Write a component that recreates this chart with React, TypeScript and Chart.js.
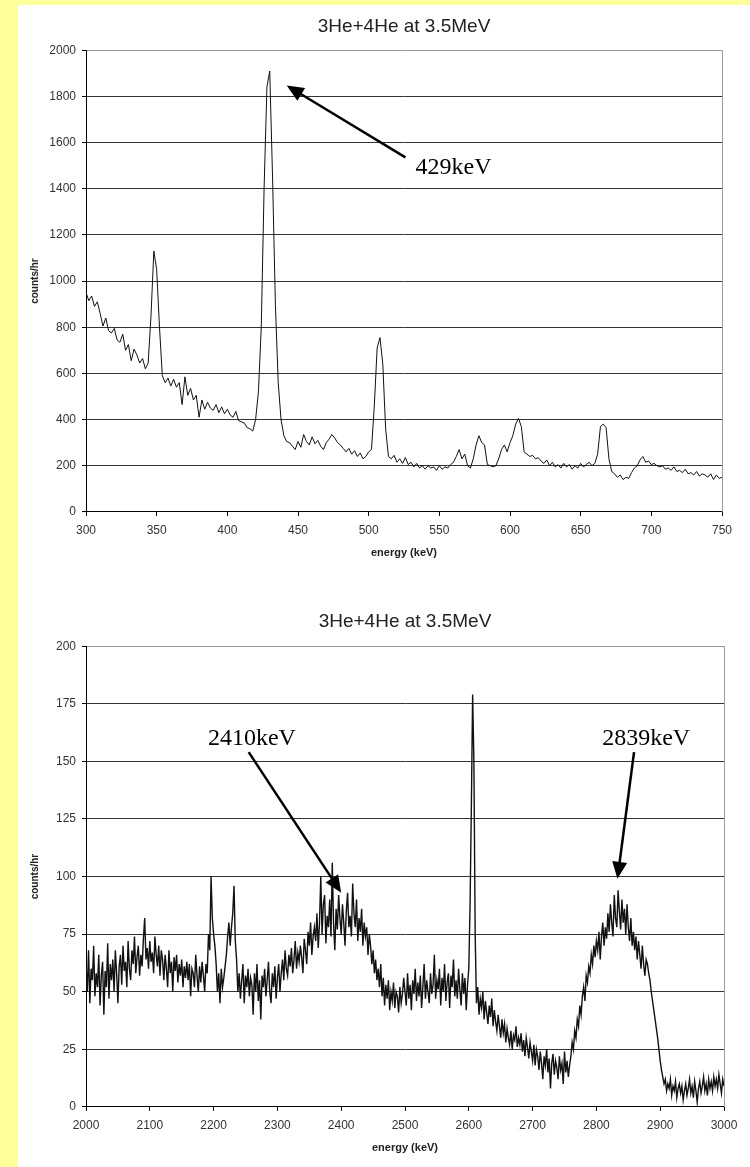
import React, { useEffect, useRef } from 'react';
import { Chart, registerables } from 'chart.js';

Chart.register(...registerables);

// Low-energy window: counts/hr per 2 keV channel, 300 – 750 keV
const LOW_START_KEV = 300;
const LOW_STEP_KEV = 2;
const lowCounts = [
  950, 915, 935, 890, 910, 860, 805, 840, 785, 775, // 300
  795, 745, 735, 770, 700, 725, 655, 705, 680, 645, // 320
  665, 620, 645, 850, 1130, 1050, 800, 590, 560, 580, // 340
  545, 575, 540, 560, 465, 585, 505, 535, 485, 505, // 360
  410, 485, 445, 475, 450, 440, 465, 430, 455, 425, // 380
  445, 420, 410, 435, 395, 390, 385, 365, 360, 350, // 400
  400, 520, 800, 1400, 1840, 1910, 1450, 900, 560, 400, // 420
  330, 305, 300, 285, 270, 305, 280, 335, 305, 290, // 440
  325, 295, 310, 285, 270, 300, 315, 335, 320, 300, // 460
  290, 275, 260, 275, 250, 265, 240, 255, 230, 240, // 480
  260, 270, 460, 710, 755, 640, 360, 240, 230, 245, // 500
  215, 230, 210, 235, 205, 215, 195, 210, 190, 200, // 520
  185, 200, 190, 195, 180, 200, 185, 195, 190, 205, // 540
  215, 240, 270, 230, 250, 200, 190, 230, 290, 330, // 560
  300, 290, 205, 200, 195, 200, 230, 270, 290, 260, // 580
  300, 330, 380, 405, 370, 260, 250, 240, 245, 230, // 600
  235, 220, 210, 225, 200, 215, 195, 205, 190, 210, // 620
  195, 205, 185, 200, 190, 210, 195, 205, 215, 200, // 640
  210, 250, 370, 380, 365, 230, 175, 165, 150, 160, // 660
  140, 150, 145, 170, 190, 200, 225, 240, 215, 220, // 680
  205, 210, 200, 195, 200, 185, 190, 180, 195, 175, // 700
  180, 170, 185, 165, 170, 160, 175, 155, 165, 160, // 720
  150, 165, 140, 160, 145, 150, // 740
];

// High-energy window: counts/hr per 2 keV channel, 2000 – 3000 keV
const HIGH_START_KEV = 2000;
const HIGH_STEP_KEV = 2;
const highCounts = [
  62, 50, 68, 45, 60, 55, 70, 48, 58, 52, // 2000
  66, 44, 57, 63, 40, 59, 52, 71, 47, 62, // 2020
  55, 64, 50, 68, 58, 45, 61, 66, 53, 70, // 2040
  59, 63, 52, 72, 60, 55, 68, 62, 74, 58, // 2060
  65, 70, 57, 66, 61, 73, 82, 64, 69, 60, // 2080
  72, 63, 67, 58, 74, 66, 61, 70, 57, 68, // 2100
  64, 55, 66, 60, 52, 68, 58, 63, 50, 65, // 2120
  59, 66, 54, 62, 57, 64, 52, 61, 56, 63, // 2140
  55, 62, 48, 60, 58, 52, 66, 57, 50, 61, // 2160
  54, 63, 57, 50, 62, 58, 75, 68, 100, 82, // 2180
  75, 70, 62, 50, 58, 45, 60, 52, 56, 61, // 2200
  66, 74, 80, 70, 78, 84, 96, 72, 64, 50, // 2220
  58, 47, 55, 62, 45, 57, 52, 60, 48, 56, // 2240
  53, 40, 58, 50, 62, 46, 55, 38, 57, 52, // 2260
  60, 48, 55, 63, 50, 45, 58, 52, 61, 47, // 2280
  56, 62, 50, 58, 64, 55, 68, 60, 57, 66, // 2300
  61, 69, 58, 64, 72, 60, 67, 63, 70, 65, // 2320
  58, 73, 68, 62, 76, 70, 80, 66, 74, 78, // 2340
  72, 84, 69, 80, 100, 75, 88, 92, 71, 83, // 2360
  78, 90, 74, 106, 80, 68, 86, 77, 92, 82, // 2380
  75, 88, 80, 70, 85, 93, 78, 83, 74, 97, // 2400
  84, 78, 90, 72, 82, 76, 86, 70, 80, 74, // 2420
  78, 66, 75, 70, 62, 68, 58, 64, 55, 60, // 2440
  52, 62, 48, 56, 44, 53, 47, 55, 42, 50, // 2460
  46, 54, 43, 50, 48, 41, 52, 45, 49, 56, // 2480
  50, 44, 58, 47, 53, 42, 55, 49, 60, 46, // 2500
  54, 48, 57, 43, 52, 62, 47, 55, 50, 45, // 2520
  58, 49, 53, 66, 47, 55, 51, 60, 44, 56, // 2540
  50, 62, 46, 54, 58, 43, 57, 52, 64, 48, // 2560
  55, 47, 60, 51, 44, 58, 49, 56, 42, 53, // 2580
  60, 88, 130, 179, 150, 75, 45, 52, 40, 47, // 2600
  43, 50, 38, 46, 41, 36, 44, 39, 47, 35, // 2620
  42, 37, 33, 40, 35, 30, 38, 32, 36, 28, // 2640
  34, 30, 27, 33, 25, 31, 29, 35, 26, 30, // 2660
  27, 32, 24, 29, 22, 30, 26, 21, 28, 24, // 2680
  20, 27, 18, 25, 22, 16, 24, 19, 12, 22, // 2700
  18, 25, 15, 21, 8, 19, 23, 14, 20, 17, // 2720
  12, 22, 16, 19, 10, 24, 15, 20, 13, 18, // 2740
  22, 28, 25, 33, 30, 38, 35, 44, 40, 48, // 2760
  52, 46, 57, 54, 61, 58, 66, 62, 70, 65, // 2780
  72, 68, 76, 64, 74, 80, 70, 78, 73, 84, // 2800
  76, 88, 80, 74, 92, 82, 78, 94, 85, 77, // 2820
  90, 80, 86, 75, 88, 78, 72, 82, 70, 76, // 2840
  68, 74, 64, 72, 66, 60, 70, 62, 57, 64, // 2860
  62, 58, 55, 50, 46, 42, 38, 34, 30, 25, // 2880
  20, 16, 13, 10, 12, 7, 10, 8, 12, 5, // 2900
  9, 7, 11, 4, 8, 10, 6, 9, 3, 7, // 2920
  10, 5, 8, 12, 6, 9, 4, 11, 7, 2, // 2940
  8, 11, 6, 9, 13, 7, 10, 5, 12, 8, // 2960
  11, 7, 13, 9, 12, 8, 14, 10, 6, 12, // 2980
  9, // 3000
];

// Axis ranges and tick spacing
const lowXRange = [300, 750];
const lowXStep = 50;
const lowYRange = [0, 2000];
const lowYStep = 200;
const highXRange = [2000, 3000];
const highXStep = 100;
const highYRange = [0, 200];
const highYStep = 25;

const TITLE = '3He+4He at 3.5MeV';
const X_TITLE = 'energy (keV)';
const Y_TITLE = 'counts/hr';

// Peak call-outs, anchored in data units (keV, counts/hr)
type Note = {
  text: string;
  textX: number;
  textY: number;
  tailX: number;
  tailY: number;
  tipX: number;
  tipY: number;
};

const lowNotes: Note[] = [
  { text: '429keV', textX: 560, textY: 1492, tailX: 526, tailY: 1536, tipX: 442, tipY: 1847 },
];

const highNotes: Note[] = [
  { text: '2410keV', textX: 2260, textY: 160, tailX: 2255, tailY: 154, tipX: 2400, tipY: 93 },
  { text: '2839keV', textX: 2878, textY: 160, tailX: 2859, tailY: 154, tipX: 2833, tipY: 99 },
];

const SANS = '"Liberation Sans", Arial, sans-serif';
const SERIF = '"Liberation Serif", "Times New Roman", serif';

const notesPlugin = {
  id: 'notes',
  afterDatasetsDraw(chart: any, _args: any, opts: any) {
    const notes: Note[] = (opts && opts.items) || [];
    const { ctx } = chart;
    const xs = chart.scales.x;
    const ys = chart.scales.y;
    ctx.save();
    for (const n of notes) {
      const tx = xs.getPixelForValue(n.tailX);
      const ty = ys.getPixelForValue(n.tailY);
      const hx = xs.getPixelForValue(n.tipX);
      const hy = ys.getPixelForValue(n.tipY);
      const ang = Math.atan2(hy - ty, hx - tx);
      const cos = Math.cos(ang);
      const sin = Math.sin(ang);
      const headLen = 17;
      const headHalf = 7.5;
      const bx = hx - headLen * cos;
      const by = hy - headLen * sin;
      ctx.strokeStyle = '#000';
      ctx.fillStyle = '#000';
      ctx.lineWidth = 2.5;
      ctx.beginPath();
      ctx.moveTo(tx, ty);
      ctx.lineTo(bx + 2 * cos, by + 2 * sin);
      ctx.stroke();
      ctx.beginPath();
      ctx.moveTo(hx, hy);
      ctx.lineTo(bx + headHalf * sin, by - headHalf * cos);
      ctx.lineTo(bx - headHalf * sin, by + headHalf * cos);
      ctx.closePath();
      ctx.fill();
      ctx.font = `24px ${SERIF}`;
      ctx.textAlign = 'center';
      ctx.textBaseline = 'middle';
      ctx.fillText(n.text, xs.getPixelForValue(n.textX), ys.getPixelForValue(n.textY));
    }
    ctx.restore();
  },
};

// Grey plot-area border on the right-hand side
const framePlugin = {
  id: 'frame',
  beforeDatasetsDraw(chart: any) {
    const { ctx, chartArea } = chart;
    ctx.save();
    ctx.strokeStyle = '#9a9a9a';
    ctx.lineWidth = 1;
    ctx.beginPath();
    const rx = Math.round(chartArea.right) + 0.5;
    ctx.moveTo(rx, chartArea.top);
    ctx.lineTo(rx, chartArea.bottom);
    ctx.stroke();
    ctx.restore();
  },
};

type SpectrumProps = {
  width: number;
  height: number;
  counts: number[];
  start: number;
  step: number;
  lineWidth: number;
  xRange: number[];
  xStep: number;
  yRange: number[];
  yStep: number;
  notes: Note[];
  titlePad: { top: number; bottom: number };
  layoutPad: { left: number; right: number; top: number; bottom: number };
};

function Spectrum(props: SpectrumProps) {
  const ref = useRef<HTMLCanvasElement | null>(null);

  useEffect(() => {
    if (!ref.current) return;
    const points = props.counts.map((v, i) => ({ x: props.start + i * props.step, y: v }));
    const yMax = props.yRange[1];
    const chart = new Chart(ref.current, {
      type: 'line',
      data: {
        datasets: [
          {
            data: points,
            borderColor: '#111',
            borderWidth: props.lineWidth,
            pointRadius: 0,
            tension: 0,
            fill: false,
          },
        ],
      },
      options: {
        responsive: false,
        animation: false,
        events: [],
        layout: { padding: props.layoutPad },
        plugins: {
          legend: { display: false },
          tooltip: { enabled: false },
          title: {
            display: true,
            text: TITLE,
            fullSize: false,
            color: '#222',
            font: { family: SANS, size: 19, weight: 'normal' },
            padding: props.titlePad,
          },
          notes: { items: props.notes },
        } as any,
        scales: {
          x: {
            type: 'linear',
            min: props.xRange[0],
            max: props.xRange[1],
            grid: {
              drawOnChartArea: false,
              drawTicks: true,
              tickLength: 4,
              tickColor: '#000',
            },
            border: { color: '#000', width: 1 },
            ticks: {
              stepSize: props.xStep,
              padding: 8,
              color: '#333',
              maxRotation: 0,
              font: { family: SANS, size: 12 },
              callback: (v: any) => String(v),
            },
            title: {
              display: true,
              text: X_TITLE,
              color: '#222',
              font: { family: SANS, size: 11, weight: 'bold' },
              padding: { top: 0, bottom: 0 },
            },
          },
          y: {
            type: 'linear',
            min: props.yRange[0],
            max: props.yRange[1],
            afterFit: (scale: any) => {
              scale.width = 58;
            },
            grid: {
              color: (c: any) => (c.tick && c.tick.value === yMax ? '#9a9a9a' : '#333'),
              lineWidth: 1,
              drawTicks: true,
              tickLength: 4,
              tickColor: '#000',
            },
            border: { color: '#000', width: 1 },
            ticks: {
              stepSize: props.yStep,
              padding: 6,
              color: '#333',
              font: { family: SANS, size: 12 },
              callback: (v: any) => String(v),
            },
            title: {
              display: true,
              text: Y_TITLE,
              color: '#222',
              font: { family: SANS, size: 10, weight: 'bold' },
              padding: { top: 1, bottom: 0 },
            },
          },
        },
      },
      plugins: [framePlugin, notesPlugin],
    } as any);
    return () => chart.destroy();
  }, []);

  return (
    <canvas
      ref={ref}
      width={props.width}
      height={props.height}
      style={{ display: 'block', width: props.width, height: props.height }}
    />
  );
}

export default function App() {
  return (
    <div
      style={{
        position: 'absolute',
        left: 0,
        top: 0,
        width: 750,
        height: 1167,
        background: '#ffff99',
        overflow: 'hidden',
      }}
    >
      <div
        style={{
          position: 'absolute',
          left: 18,
          top: 5,
          width: 732,
          height: 1162,
          background: '#fff',
        }}
      >
        <Spectrum
          width={732}
          height={575}
          counts={lowCounts}
          start={LOW_START_KEV}
          step={LOW_STEP_KEV}
          lineWidth={1}
          xRange={lowXRange}
          xStep={lowXStep}
          yRange={lowYRange}
          yStep={lowYStep}
          notes={lowNotes}
          titlePad={{ top: 10.6, bottom: 11.8 }}
          layoutPad={{ left: 10, right: 28, top: 0, bottom: 20.5 }}
        />
        <div style={{ height: 5 }} />
        <Spectrum
          width={732}
          height={582}
          counts={highCounts}
          start={HIGH_START_KEV}
          step={HIGH_STEP_KEV}
          lineWidth={1.4}
          xRange={highXRange}
          xStep={highXStep}
          yRange={highYRange}
          yStep={highYStep}
          notes={highNotes}
          titlePad={{ top: 25.5, bottom: 12.9 }}
          layoutPad={{ left: 10, right: 26, top: 0, bottom: 12.5 }}
        />
      </div>
    </div>
  );
}
